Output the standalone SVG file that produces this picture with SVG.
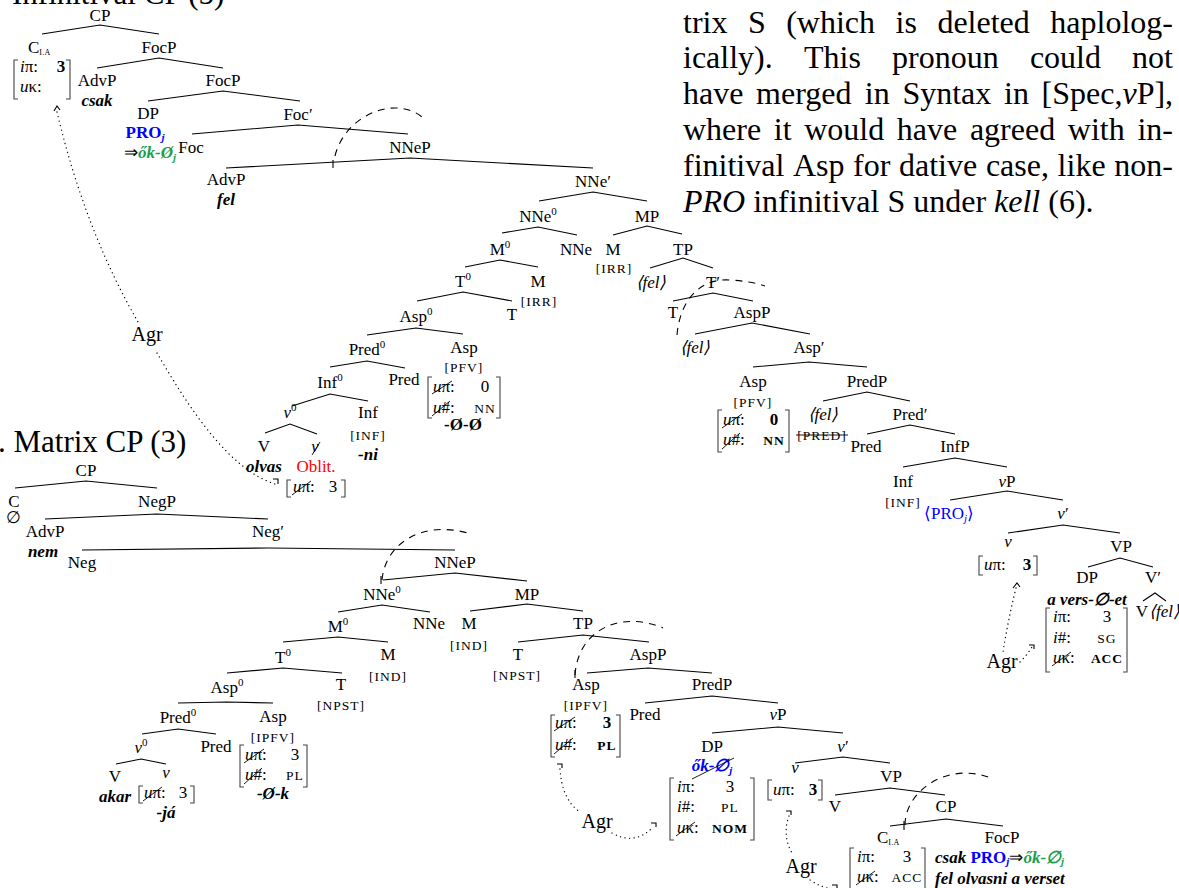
<svg xmlns="http://www.w3.org/2000/svg" width="1179" height="888" viewBox="0 0 1179 888">
<style>
.t{font-family:"Liberation Serif","Times New Roman",serif;font-size:17px;fill:#000}
.m{text-anchor:middle}
.en{text-anchor:end}
.i{font-style:italic}
.b{font-weight:bold}
.sc{font-size:13.5px;letter-spacing:1px}
.big{font-size:31px}
.p{font-family:"Liberation Serif","Times New Roman",serif;font-size:32px;fill:#000}
.agr{font-size:20px}
.blue{fill:#0000ff}
.green{fill:#1a9f4f}
.red{fill:#ff0000}
.e{fill:none;stroke:#000;stroke-width:1.1}
.da{fill:none;stroke:#000;stroke-width:1.1;stroke-dasharray:7 6}
.dt{fill:none;stroke:#000;stroke-width:1.3;stroke-dasharray:0.1 4.5;stroke-linecap:round}
.bk{fill:none;stroke:#444;stroke-width:1.1}
.st{fill:none;stroke:#000;stroke-width:0.9}
</style>

<!-- titles and paragraph -->
<g id="titles">
<text class="t big" x="12" y="4">Infinitival CP (5)</text>
<text class="t big" x="-2" y="452">. Matrix CP (3)</text>
</g>
<g id="paragraph" class="p">
<text y="33"><tspan x="683">trix</tspan><tspan x="747.9">S</tspan><tspan x="786.2">(which</tspan><tspan x="895.6">is</tspan><tspan x="937.4">deleted</tspan><tspan x="1050.3">haplolog-</tspan></text>
<text y="68"><tspan x="683">ically).</tspan><tspan x="804">This</tspan><tspan x="892">pronoun</tspan><tspan x="1029.9">could</tspan><tspan x="1132.1">not</tspan></text>
<text y="104"><tspan x="683">have</tspan><tspan x="756.1">merged</tspan><tspan x="864.8">in</tspan><tspan x="902.4">Syntax</tspan><tspan x="1004">in</tspan><tspan x="1041.6">[Spec,<tspan font-style="italic">v</tspan>P],</tspan></text>
<text y="140"><tspan x="683">where</tspan><tspan x="773.8">it</tspan><tspan x="804.2">would</tspan><tspan x="896.8">have</tspan><tspan x="969.9">agreed</tspan><tspan x="1067.8">with</tspan><tspan x="1137.4">in-</tspan></text>
<text y="176"><tspan x="683">finitival</tspan><tspan x="792.9">Asp</tspan><tspan x="853.1">for</tspan><tspan x="899">dative</tspan><tspan x="985.9">case,</tspan><tspan x="1057.6">like</tspan><tspan x="1114.3">non-</tspan></text>
<text x="683" y="212"><tspan font-style="italic">PRO</tspan> infinitival S under <tspan font-style="italic">kell</tspan> (6).</text>
</g>

<!-- connectors -->
<g id="connectors">
<!-- top tree -->
<polyline class="e" points="42,34 100,25 159,34"/>
<polyline class="e" points="97,68 159,58 223,68"/>
<polyline class="e" points="148,101 223,91 300,101"/>
<polyline class="e" points="192,134 298,125 408,134"/>
<polyline class="e" points="226,168 410,158 593,168"/>
<polyline class="e" points="539,201 593,192 647,201"/>
<polyline class="e" points="502,233 538,227 577,235"/>
<polyline class="e" points="613,235 647,226 682,234"/>
<polyline class="e" points="650,268 683,258 713,268"/>
<polyline class="e" points="465,267 500,260 538,267"/>
<polyline class="e" points="417,301 463,292 512,301"/>
<polyline class="e" points="367,335 416,328 463,334"/>
<polyline class="e" points="330,367 367,361 405,368"/>
<polyline class="e" points="292,406 330,394 368,401"/>
<polyline class="e" points="265,433 290,424 317,434"/>
<polyline class="e" points="673,301 713,293 753,301"/>
<polyline class="e" points="695,334 752,323 810,334"/>
<polyline class="e" points="753,367 809,362 867,367"/>
<polyline class="e" points="823,401 867,392 910,401"/>
<polyline class="e" points="867,434 910,425 955,434"/>
<polyline class="e" points="903,467 955,458 1007,467"/>
<polyline class="e" points="950,500 1007,491 1063,500"/>
<polyline class="e" points="1008,533 1063,525 1120,533"/>
<polyline class="e" points="1088,567 1120,558 1153,567"/>
<polyline class="e" points="1143,601 1155,593 1166,601"/>
<!-- movement arcs top -->
<path class="da" d="M335,156 C345,115 395,95 422,117"/>
<line class="e" x1="333" y1="160" x2="333" y2="168"/>
<path class="da" d="M677,335 C680,300 700,278 730,280 C745,281 757,283 765,286"/>
<!-- agree top -->
<path class="dt" d="M57,112 Q85,230 138,322"/>
<path class="dt" d="M157,353 C190,410 230,470 275,484"/>
<path class="e" d="M54,111 L57,106 L60,110"/>
<path class="e" d="M273,479 H278 V484"/>
<path class="dt" d="M1016,588 Q1008,620 1003,652"/>
<path class="e" d="M1013,588 L1017,583 L1020,587"/>
<path class="dt" d="M1020,662 Q1027,655 1032,647"/>
<path class="e" d="M1029,645 H1034 V649"/>
<!-- bottom tree -->
<polyline class="e" points="15,488 86,481 157,488"/>
<polyline class="e" points="45,519 157,514 268,519"/>
<polyline class="e" points="82,550 268,548 455,550"/>
<polyline class="e" points="383,580 455,573 527,581"/>
<polyline class="e" points="338,612 382,605 430,612"/>
<polyline class="e" points="470,611 527,604 583,611"/>
<polyline class="e" points="283,642 338,637 388,642"/>
<polyline class="e" points="518,642 583,635 649,642"/>
<polyline class="e" points="587,673 648,668 712,673"/>
<polyline class="e" points="227,673 283,668 342,673"/>
<polyline class="e" points="178,703 227,702 273,703"/>
<polyline class="e" points="142,734 178,729 216,734"/>
<polyline class="e" points="116,764 141,759 166,764"/>
<polyline class="e" points="645,703 712,696 778,703"/>
<polyline class="e" points="712,733 778,727 843,733"/>
<polyline class="e" points="795,763 843,757 890,763"/>
<polyline class="e" points="835,795 890,788 945,795"/>
<polyline class="e" points="890,826 946,819 1003,826"/>
<!-- movement arcs bottom -->
<path class="da" d="M382,580 C385,545 420,520 468,533"/>
<line class="e" x1="381" y1="576" x2="381" y2="584"/>
<path class="da" d="M575,675 C578,630 620,610 663,628"/>
<line class="e" x1="575" y1="670" x2="575" y2="678"/>
<path class="da" d="M905,825 C905,790 950,760 993,779"/>
<line class="e" x1="904" y1="821" x2="904" y2="830"/>
<!-- agree bottom -->
<path class="dt" d="M560,769 Q562,800 580,812"/>
<path class="e" d="M557,764 H562 V768"/>
<path class="dt" d="M612,833 Q635,846 653,827"/>
<path class="e" d="M651,823 H656 V827"/>
<path class="dt" d="M789,816 Q782,835 792,853"/>
<path class="e" d="M786,811 H791 V815"/>
<path class="dt" d="M810,880 Q822,888 833,889"/>
<path class="e" d="M832,885 H837 V889"/>
</g>

<!-- ===== Infinitival CP tree ===== -->
<g id="inf-CP"><text class="t m" x="100" y="21">CP</text></g>
<g id="inf-C">
<text class="t" x="28" y="53">C<tspan font-size="8" dy="2" letter-spacing="0.3">I.A</tspan></text>
<path class="bk" d="M18,60 H14 V99 H18"/><path class="bk" d="M66,60 H70 V99 H66"/>
<text class="t" x="20" y="72"><tspan class="i">i</tspan>π:</text>
<text class="t b m" x="61" y="72">3</text>
<text class="t" x="20" y="92"><tspan class="i">u</tspan>κ:</text>
</g>
<g id="inf-FocP1"><text class="t m" x="159" y="53">FocP</text></g>
<g id="inf-AdvP1"><text class="t m" x="97" y="86">AdvP</text><text class="t b i m" x="97" y="106">csak</text></g>
<g id="inf-FocP2"><text class="t m" x="223" y="86">FocP</text></g>
<g id="inf-DP">
<text class="t m" x="148" y="119">DP</text>
<text class="t b m blue" x="145" y="138">PRO<tspan class="i" font-size="11" dy="3">j</tspan></text>
<text class="t en" x="176" y="158">⇒<tspan class="b i green">ők-Ø<tspan font-size="11" dy="3">j</tspan></tspan></text>
</g>
<g id="inf-Focbar"><text class="t m" x="298" y="120">Foc′</text></g>
<g id="inf-Foc"><text class="t m" x="191" y="153">Foc</text></g>
<g id="inf-NNeP"><text class="t m" x="410" y="153">NNeP</text></g>
<g id="inf-AdvP2"><text class="t m" x="226" y="185">AdvP</text><text class="t b i m" x="226" y="205">fel</text></g>
<g id="inf-NNebar"><text class="t m" x="593" y="187">NNe′</text></g>
<g id="inf-NNe0"><text class="t m" x="538" y="222">NNe<tspan font-size="11" dy="-7">0</tspan></text></g>
<g id="inf-MP"><text class="t m" x="647" y="222">MP</text></g>
<g id="inf-M0"><text class="t m" x="500" y="255">M<tspan font-size="11" dy="-7">0</tspan></text></g>
<g id="inf-NNe"><text class="t m" x="576" y="255">NNe</text></g>
<g id="inf-M1"><text class="t m" x="613" y="255">M</text><text class="t sc m" x="614" y="273">[IRR]</text></g>
<g id="inf-TP"><text class="t m" x="683" y="255">TP</text></g>
<g id="inf-fel1"><text class="t i m" x="651" y="288">⟨fel⟩</text></g>
<g id="inf-Tbar"><text class="t m" x="713" y="288">T′</text></g>
<g id="inf-T0"><text class="t m" x="463" y="287">T<tspan font-size="11" dy="-7">0</tspan></text></g>
<g id="inf-M2"><text class="t m" x="538" y="287">M</text></g>
<g id="inf-Asp0"><text class="t m" x="416" y="322">Asp<tspan font-size="11" dy="-7">0</tspan></text></g>
<g id="inf-T1"><text class="t m" x="512" y="320">T</text><text class="t sc m" x="539" y="306">[IRR]</text></g>
<g id="inf-Pred0"><text class="t m" x="367" y="355">Pred<tspan font-size="11" dy="-7">0</tspan></text></g>
<g id="inf-Asp1">
<text class="t m" x="464" y="353">Asp</text>
<text class="t sc m" x="464" y="372">[PFV]</text>
<path class="bk" d="M432,377 H428 V418 H432"/><path class="bk" d="M496,377 H500 V418 H496"/>
<text class="t" x="433" y="392"><tspan class="i">u</tspan>π:</text><line class="st" x1="432" y1="394" x2="452" y2="381"/>
<text class="t m" x="485" y="392">0</text>
<text class="t" x="433" y="413"><tspan class="i">u</tspan>#:</text><line class="st" x1="432" y1="416" x2="450" y2="401"/>
<text class="t sc m" x="485" y="413">NN</text>
<text class="t b m" x="463" y="430" font-family="Liberation Sans, sans-serif">-Ø-Ø</text>
</g>
<g id="inf-Inf0"><text class="t m" x="330" y="388">Inf<tspan font-size="11" dy="-7">0</tspan></text></g>
<g id="inf-Pred1"><text class="t m" x="404" y="385">Pred</text></g>
<g id="inf-v0"><text class="t m" x="290" y="418"><tspan class="i">v</tspan><tspan font-size="11" dy="-7">0</tspan></text></g>
<g id="inf-Inf1"><text class="t m" x="368" y="418">Inf</text><text class="t sc m" x="368" y="440">[INF]</text><text class="t b i m" x="368" y="460">-ni</text></g>
<g id="inf-V"><text class="t m" x="264" y="452">V</text><text class="t b i m" x="264" y="472">olvas</text></g>
<g id="inf-v1">
<text class="t i m" x="315" y="452">v</text><line class="st" x1="312" y1="455" x2="320" y2="442"/>
<text class="t m red" x="316" y="472">Oblit.</text>
<path class="bk" d="M291,480 H287 V497 H291"/><path class="bk" d="M341,480 H345 V497 H341"/>
<text class="t" x="293" y="492"><tspan class="i">u</tspan>π:</text><line class="st" x1="292" y1="495" x2="311" y2="481"/>
<text class="t m" x="333" y="492">3</text>
</g>
<g id="inf-agr"><text class="t agr m" x="147" y="341">Agr</text></g>
<g id="inf-T2"><text class="t m" x="673" y="318">T</text></g>
<g id="inf-AspP"><text class="t m" x="752" y="318">AspP</text></g>
<g id="inf-fel2"><text class="t i m" x="695" y="353">⟨fel⟩</text></g>
<g id="inf-Aspbar"><text class="t m" x="809" y="353">Asp′</text></g>
<g id="inf-Asp2">
<text class="t m" x="753" y="387">Asp</text>
<text class="t sc m" x="753" y="407">[PFV]</text>
<path class="bk" d="M722,410 H718 V452 H722"/><path class="bk" d="M785,410 H789 V452 H785"/>
<text class="t" x="723" y="425"><tspan class="i">u</tspan>π:</text><line class="st" x1="722" y1="428" x2="742" y2="414"/>
<text class="t b m" x="774" y="425">0</text>
<text class="t" x="723" y="445"><tspan class="i">u</tspan>#:</text><line class="st" x1="722" y1="449" x2="740" y2="433"/>
<text class="t b sc m" x="774" y="445">NN</text>
</g>
<g id="inf-PredP"><text class="t m" x="867" y="387">PredP</text></g>
<g id="inf-fel3"><text class="t i m" x="823" y="420">⟨fel⟩</text></g>
<g id="inf-Predbar"><text class="t m" x="910" y="420">Pred′</text></g>
<g id="inf-PRED"><text class="t sc m" x="822" y="440">[PRED]</text><line class="st" x1="796" y1="435" x2="848" y2="435"/></g>
<g id="inf-Pred2"><text class="t m" x="866" y="452">Pred</text></g>
<g id="inf-InfP"><text class="t m" x="955" y="452">InfP</text></g>
<g id="inf-Inf2"><text class="t m" x="903" y="487">Inf</text><text class="t sc m" x="903" y="507">[INF]</text></g>
<g id="inf-vP"><text class="t m" x="1007" y="487"><tspan class="i">v</tspan>P</text></g>
<g id="inf-PRO"><text class="t m blue" x="949" y="519">⟨PRO<tspan class="i" font-size="11" dy="3">j</tspan><tspan dy="-3">⟩</tspan></text></g>
<g id="inf-vbar"><text class="t m" x="1063" y="519"><tspan class="i">v</tspan>′</text></g>
<g id="inf-v2">
<text class="t i m" x="1008" y="547">v</text>
<path class="bk" d="M983,556 H979 V575 H983"/><path class="bk" d="M1033,556 H1037 V575 H1033"/>
<text class="t" x="984" y="570"><tspan class="i">u</tspan>π:</text>
<text class="t b m" x="1027" y="570">3</text>
</g>
<g id="inf-VP"><text class="t m" x="1121" y="552">VP</text></g>
<g id="inf-DP2">
<text class="t m" x="1087" y="583">DP</text>
<text class="t b i m" x="1087" y="605">a vers-∅-et</text>
<path class="bk" d="M1050,608 H1046 V672 H1050"/><path class="bk" d="M1123,608 H1127 V672 H1123"/>
<text class="t" x="1053" y="622"><tspan class="i">i</tspan>π:</text><text class="t m" x="1107" y="622">3</text>
<text class="t" x="1053" y="643"><tspan class="i">i</tspan>#:</text><text class="t sc m" x="1107" y="643">SG</text>
<text class="t" x="1053" y="663"><tspan class="i">u</tspan>κ:</text><line class="st" x1="1052" y1="666" x2="1071" y2="652"/>
<text class="t b sc m" x="1107" y="663">ACC</text>
</g>
<g id="inf-Vbar"><text class="t m" x="1153" y="583">V′</text></g>
<g id="inf-V2"><text class="t m" x="1142" y="617">V</text><text class="t i" x="1149" y="617">⟨fel⟩</text></g>
<g id="inf-agr2"><text class="t agr m" x="1002" y="668">Agr</text></g>

<!-- ===== Matrix CP tree ===== -->
<g id="mat-CP"><text class="t m" x="86" y="476">CP</text></g>
<g id="mat-C"><text class="t m" x="14" y="507">C</text><text class="t m" x="13" y="523" font-size="11">∅</text></g>
<g id="mat-NegP"><text class="t m" x="157" y="507">NegP</text></g>
<g id="mat-AdvP"><text class="t m" x="45" y="537">AdvP</text><text class="t b i m" x="43" y="557">nem</text></g>
<g id="mat-Negbar"><text class="t m" x="268" y="537">Neg′</text></g>
<g id="mat-Neg"><text class="t m" x="82" y="568">Neg</text></g>
<g id="mat-NNeP"><text class="t m" x="455" y="568">NNeP</text></g>
<g id="mat-NNe0"><text class="t m" x="382" y="600">NNe<tspan font-size="11" dy="-7">0</tspan></text></g>
<g id="mat-MP"><text class="t m" x="527" y="600">MP</text></g>
<g id="mat-M0"><text class="t m" x="338" y="632">M<tspan font-size="11" dy="-7">0</tspan></text></g>
<g id="mat-NNe"><text class="t m" x="429" y="629">NNe</text></g>
<g id="mat-M1"><text class="t m" x="469" y="629">M</text><text class="t sc m" x="469" y="650">[IND]</text></g>
<g id="mat-TP"><text class="t m" x="583" y="629">TP</text></g>
<g id="mat-T0"><text class="t m" x="283" y="663">T<tspan font-size="11" dy="-7">0</tspan></text></g>
<g id="mat-M2"><text class="t m" x="388" y="660">M</text><text class="t sc m" x="388" y="681">[IND]</text></g>
<g id="mat-T1"><text class="t m" x="518" y="660">T</text><text class="t sc m" x="517" y="680">[NPST]</text></g>
<g id="mat-AspP"><text class="t m" x="648" y="660">AspP</text></g>
<g id="mat-Asp0"><text class="t m" x="227" y="693">Asp<tspan font-size="11" dy="-7">0</tspan></text></g>
<g id="mat-T2"><text class="t m" x="341" y="690">T</text><text class="t sc m" x="341" y="710">[NPST]</text></g>
<g id="mat-Pred0"><text class="t m" x="178" y="723">Pred<tspan font-size="11" dy="-7">0</tspan></text></g>
<g id="mat-Asp1">
<text class="t m" x="273" y="722">Asp</text>
<text class="t sc m" x="273" y="742">[IPFV]</text>
<path class="bk" d="M244,745 H240 V787 H244"/><path class="bk" d="M303,745 H307 V787 H303"/>
<text class="t" x="245" y="760"><tspan class="i">u</tspan>π:</text><line class="st" x1="244" y1="763" x2="264" y2="749"/>
<text class="t m" x="295" y="760">3</text>
<text class="t" x="245" y="780"><tspan class="i">u</tspan>#:</text><line class="st" x1="244" y1="784" x2="262" y2="768"/>
<text class="t sc m" x="295" y="780">PL</text>
<text class="t b i m" x="273" y="799">-Ø-k</text>
</g>
<g id="mat-v0"><text class="t m" x="141" y="753"><tspan class="i">v</tspan><tspan font-size="11" dy="-7">0</tspan></text></g>
<g id="mat-Pred1"><text class="t m" x="216" y="752">Pred</text></g>
<g id="mat-V"><text class="t m" x="115" y="782">V</text><text class="t b i m" x="115" y="802">akar</text></g>
<g id="mat-v1">
<text class="t i m" x="166" y="778">v</text>
<path class="bk" d="M143,786 H139 V803 H143"/><path class="bk" d="M190,786 H194 V803 H190"/>
<text class="t" x="144" y="798"><tspan class="i">u</tspan>π:</text><line class="st" x1="143" y1="801" x2="162" y2="787"/>
<text class="t m" x="183" y="798">3</text>
<text class="t b i m" x="166" y="818">-já</text>
</g>
<g id="mat-Asp2">
<text class="t m" x="586" y="690">Asp</text>
<text class="t sc m" x="586" y="710">[IPFV]</text>
<path class="bk" d="M555,715 H551 V757 H555"/><path class="bk" d="M616,715 H620 V757 H616"/>
<text class="t" x="555" y="728"><tspan class="i">u</tspan>π:</text><line class="st" x1="554" y1="731" x2="575" y2="717"/>
<text class="t b m" x="607" y="728">3</text>
<text class="t" x="555" y="750"><tspan class="i">u</tspan>#:</text><line class="st" x1="554" y1="754" x2="573" y2="738"/>
<text class="t b sc m" x="607" y="750">PL</text>
</g>
<g id="mat-PredP"><text class="t m" x="712" y="690">PredP</text></g>
<g id="mat-Pred2"><text class="t m" x="645" y="720">Pred</text></g>
<g id="mat-vP"><text class="t m" x="778" y="720"><tspan class="i">v</tspan>P</text></g>
<g id="mat-DP">
<text class="t m" x="712" y="752">DP</text>
<text class="t b i m blue" x="712" y="771">ők-∅<tspan font-size="11" dy="3">j</tspan></text>
<line class="st" x1="692" y1="779" x2="734" y2="758"/>
<path class="bk" d="M674,778 H670 V840 H674"/><path class="bk" d="M750,778 H754 V840 H750"/>
<text class="t" x="677" y="792"><tspan class="i">i</tspan>π:</text><text class="t m" x="730" y="792">3</text>
<text class="t" x="677" y="812"><tspan class="i">i</tspan>#:</text><text class="t sc m" x="730" y="812">PL</text>
<text class="t" x="677" y="833"><tspan class="i">u</tspan>κ:</text><line class="st" x1="676" y1="836" x2="695" y2="822"/>
<text class="t b sc m" x="730" y="833">NOM</text>
</g>
<g id="mat-agr1"><text class="t agr m" x="597" y="828">Agr</text></g>
<g id="mat-vbar"><text class="t m" x="843" y="752"><tspan class="i">v</tspan>′</text></g>
<g id="mat-v2">
<text class="t i m" x="795" y="773">v</text>
<path class="bk" d="M772,780 H768 V800 H772"/><path class="bk" d="M818,780 H822 V800 H818"/>
<text class="t" x="773" y="795"><tspan class="i">u</tspan>π:</text>
<text class="t b m" x="813" y="795">3</text>
</g>
<g id="mat-VP"><text class="t m" x="891" y="782">VP</text></g>
<g id="mat-V2"><text class="t m" x="835" y="812">V</text></g>
<g id="mat-CP2"><text class="t m" x="946" y="812">CP</text></g>
<g id="mat-C2">
<text class="t" x="877" y="843">C<tspan font-size="8" dy="2" letter-spacing="0.3">I.A</tspan></text>
<path class="bk" d="M854,848 H850 V892"/><path class="bk" d="M921,848 H925 V892"/>
<text class="t" x="857" y="862"><tspan class="i">i</tspan>π:</text><text class="t m" x="907" y="862">3</text>
<text class="t" x="857" y="882"><tspan class="i">u</tspan>κ:</text><line class="st" x1="856" y1="885" x2="875" y2="871"/>
<text class="t sc m" x="907" y="882">ACC</text>
</g>
<g id="mat-FocP">
<text class="t m" x="1002" y="843">FocP</text>
<text class="t" x="935" y="863"><tspan class="b i">csak </tspan><tspan class="b blue">PRO<tspan class="i" font-size="11" dy="2">j</tspan></tspan><tspan dy="-2">⇒</tspan><tspan class="b i green">ők-∅<tspan font-size="11" dy="2">j</tspan></tspan></text>
<text class="t b i" x="935" y="884">fel olvasni a verset</text>
</g>
<g id="mat-agr2"><text class="t agr m" x="801" y="873">Agr</text></g>
</svg>
